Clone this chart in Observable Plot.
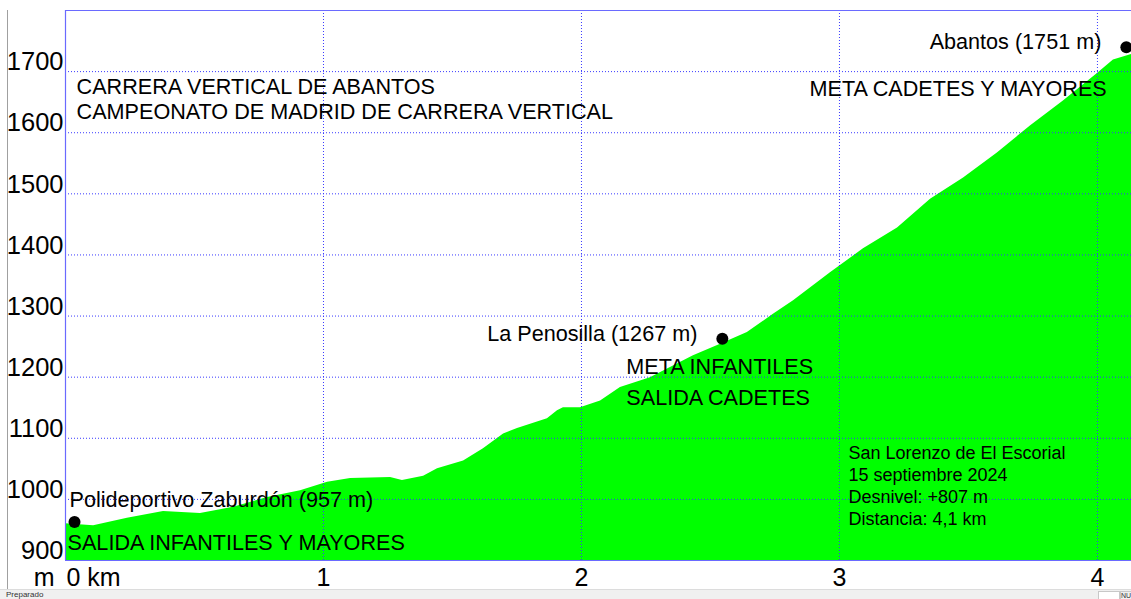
<!DOCTYPE html>
<html>
<head>
<meta charset="utf-8">
<script src="https://cdn.jsdelivr.net/npm/d3@7"></script>
<script src="https://cdn.jsdelivr.net/npm/@observablehq/plot@0.6"></script>
<style>
  html, body { margin: 0; padding: 0; background: #fff; overflow: hidden; }
  #wrap { position: relative; width: 1131px; height: 599px; }
  #winline { position: absolute; left: 7px; top: 10px; width: 1px; height: 580px; background: #a0a0a0; }
  #status { position: absolute; left: 0; top: 589px; width: 1131px; height: 10px; background: #f0f0f0; border-top: 1px solid #dcdcdc;
            font: 8px "Liberation Sans", Arial, sans-serif; color: #333; line-height: 10px; }
  #status span.t { position: absolute; left: 6px; top: 0; }
  #status span.b1 { position: absolute; left: 1098px; top: 1px; width: 20px; height: 8px; border: 1px solid #c8c8c8; background: #fff; }
  #status span.b2 { position: absolute; left: 1120px; top: 1px; width: 11px; height: 8px; border: 1px solid #c8c8c8; font-size: 7px; line-height: 8px; }
</style>
</head>
<body>
<div id="wrap">
  <div id="chart"></div>
  <div id="winline"></div>
  <div id="status"><span class="t">Preparado</span><span class="b1"></span><span class="b2">NU</span></div>
</div>
<script>
// Elevation profile: distance (km) and elevation (m)
const distKm = [0, 0.109, 0.240, 0.380, 0.523, 0.651, 0.783, 0.911, 1.016, 1.105, 1.260, 1.306, 1.388, 1.442, 1.543, 1.620, 1.698, 1.752, 1.868, 1.907, 1.930, 1.996, 2.074, 2.151, 2.267, 2.434, 2.539, 2.643, 2.744, 2.822, 2.965, 3.093, 3.225, 3.353, 3.481, 3.612, 3.740, 3.868, 4.000, 4.062, 4.132];
const elevM  = [960, 957, 969, 980, 977, 987, 1003, 1014, 1028, 1034, 1036, 1031, 1038, 1050, 1063, 1083, 1107, 1116, 1132, 1145, 1150, 1150, 1161, 1183, 1199, 1235, 1254, 1273, 1303, 1325, 1371, 1410, 1444, 1491, 1526, 1567, 1611, 1652, 1697, 1719, 1728];

// Waypoints
const wpNames = ["Polideportivo Zaburdón (957 m)", "La Penosilla (1267 m)", "Abantos (1751 m)"];
const wpKm    = [0.035, 2.546, 4.112];
const wpEle   = [963, 1263, 1740];

// Axis ticks
const yTicks = [900, 1000, 1100, 1200, 1300, 1400, 1500, 1600, 1700];
const yGrid  = [1000, 1100, 1200, 1300, 1400, 1500, 1600, 1700];
const xTicks = [0, 1, 2, 3, 4];
const xTickLabels = ["0 km", "1", "2", "3", "4"];

// Annotations (anchored in data coordinates)
const noteText = ["CARRERA VERTICAL DE ABANTOS", "CAMPEONATO DE MADRID DE CARRERA VERTICAL", "META CADETES Y MAYORES", "META INFANTILES", "SALIDA CADETES", "SALIDA INFANTILES Y MAYORES"];
const noteKm   = [0.043, 0.043, 2.884, 2.174, 2.174, 0.008];
const noteEle  = [1674, 1633, 1672, 1217, 1165, 929];

const infoText = ["San Lorenzo de El Escorial", "15 septiembre 2024", "Desnivel: +807 m", "Distancia: 4,1 km"];
const infoKm   = [3.035, 3.035, 3.035, 3.035];
const infoEle  = [1075, 1039, 1003, 967];

const profile = distKm.map((k, i) => ({km: k, ele: elevM[i]}));
const waypoints = wpNames.map((n, i) => ({name: n, km: wpKm[i], ele: wpEle[i]}));
const notes = noteText.map((t, i) => ({t, km: noteKm[i], ele: noteEle[i]}));
const info = infoText.map((t, i) => ({t, km: infoKm[i], ele: infoEle[i]}));
const xLabels = xTicks.map((v, i) => ({v, t: xTickLabels[i]}));

const FONT = "'Liberation Sans', Arial, sans-serif";
const GRID = "#3a3aff";
const FRAME = "#6a6aff";

const chart = Plot.plot({
  width: 1131,
  height: 599,
  marginLeft: 65,
  marginRight: 0,
  marginTop: 10,
  marginBottom: 39,
  x: {domain: [0, 4.132], axis: null},
  y: {domain: [900, 1800], axis: null},
  style: {fontFamily: FONT, background: "transparent", color: "#000"},
  marks: [
    Plot.areaY(profile, {x: "km", y1: () => 900, y2: "ele", fill: "#00ff00", curve: "linear"}),
    Plot.gridY(yGrid, {stroke: GRID, strokeOpacity: 1, strokeWidth: 1, strokeDasharray: "1,2"}),
    Plot.gridX(xTicks.filter(d => d > 0), {stroke: GRID, strokeOpacity: 1, strokeWidth: 1, strokeDasharray: "1,2"}),
    Plot.ruleX([0], {stroke: FRAME, strokeWidth: 1.2}),
    Plot.ruleY([900, 1800], {stroke: FRAME, strokeWidth: 1.2}),
    Plot.dot(waypoints, {x: "km", y: "ele", r: 6, fill: "#000", stroke: null}),
    // waypoint labels
    Plot.text(waypoints.slice(0, 1), {x: "km", y: "ele", text: "name", textAnchor: "start", dx: -5, dy: -22, fontSize: 21.6, fill: "#000"}),
    Plot.text(waypoints.slice(1), {x: "km", y: "ele", text: "name", textAnchor: "end", dx: -25, dy: -5, fontSize: 21.6, fill: "#000"}),
    // notes
    Plot.text(notes, {x: "km", y: "ele", text: "t", textAnchor: "start", fontSize: 21.6, fill: "#000"}),
    Plot.text(info, {x: "km", y: "ele", text: "t", textAnchor: "start", fontSize: 18, fill: "#000"}),
    // y tick labels
    Plot.text(yTicks, {x: () => 0, y: d => d, text: d => String(d), textAnchor: "end", dx: -2, dy: -9.5, fontSize: 25.5, fill: "#000"}),
    // x tick labels
    Plot.text(xLabels.slice(0, 1), {x: "v", y: () => 900, text: "t", textAnchor: "start", dx: 1, dy: 17, fontSize: 25, fill: "#000"}),
    Plot.text(xLabels.slice(1), {x: "v", y: () => 900, text: "t", textAnchor: "middle", dy: 17, fontSize: 25, fill: "#000"}),
    Plot.text(["m"], {x: () => 0, y: () => 900, text: d => d, textAnchor: "end", dx: -11, dy: 17, fontSize: 25, fill: "#000"})
  ]
});
document.getElementById("chart").appendChild(chart);
</script>
</body>
</html>
